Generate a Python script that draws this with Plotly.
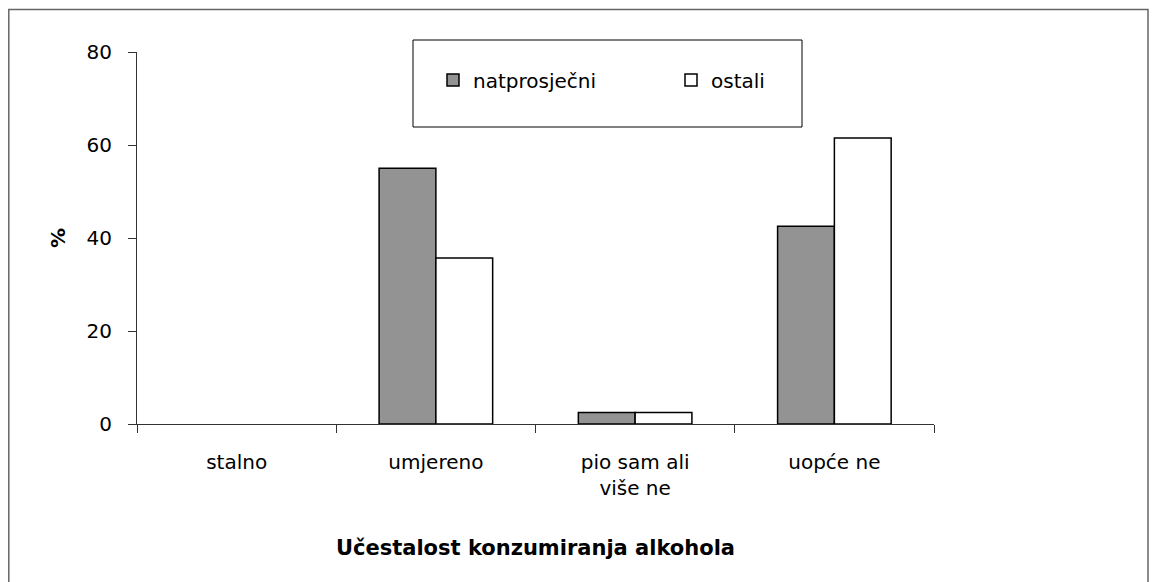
import plotly.graph_objects as go

categories = ["stalno", "umjereno", "pio sam ali<br>više ne", "uopće ne"]
natprosjecni = [None, 55, 2.5, 42.5]
ostali = [None, 35.7, 2.5, 61.5]
series_names = ["natprosječni", "ostali"]
y_ticks = [0, 20, 40, 60, 80]

FONT = "DejaVu Sans, Liberation Sans, Arial, sans-serif"

# plot area in figure pixels
L, R, T, B = 129, 926, 44, 416
W, H = 1158, 582
PW, PH = R - L, B - T

def px(x):
    return (x - L) / PW

def py(y):
    return (B - y) / PH

fig = go.Figure()
fig.add_trace(go.Bar(x=categories, y=natprosjecni, name=series_names[0],
                     marker=dict(color="#939393", line=dict(color="black", width=1.5))))
fig.add_trace(go.Bar(x=categories, y=ostali, name=series_names[1],
                     marker=dict(color="white", line=dict(color="black", width=1.5))))

fig.update_layout(
    width=W, height=H,
    margin=dict(l=L, r=W - R, t=T, b=H - B),
    paper_bgcolor="white", plot_bgcolor="white",
    barmode="group", bargap=0.43, bargroupgap=0,
    font=dict(family=FONT, size=20, color="black"),
    showlegend=True,
    legend=dict(orientation="h", x=px(425), y=py(72), xanchor="left", yanchor="middle",
                bgcolor="rgba(0,0,0,0)", borderwidth=0, entrywidth=193,
                font=dict(size=20, family=FONT)),
    shapes=[
        dict(type="rect", xref="paper", yref="paper",
             x0=px(405), x1=px(794), y0=py(119), y1=py(32),
             line=dict(color="black", width=1), fillcolor="white", layer="below"),
        dict(type="rect", xref="paper", yref="paper",
             x0=px(0.8), x1=px(1140), y0=py(600), y1=py(1.5),
             line=dict(color="#666666", width=1.5), fillcolor="rgba(0,0,0,0)", layer="below"),
    ],
)

fig.update_xaxes(
    showline=True, linecolor="#333333", linewidth=1,
    ticks="outside", tickson="boundaries", ticklen=8, tickcolor="#333333",
    ticklabelstandoff=20,
    showgrid=False,
    title=dict(text="<b>Učestalost konzumiranja alkohola</b>", font=dict(size=21), standoff=41),
    tickfont=dict(size=20),
)
fig.update_yaxes(
    range=[0, 80], tickvals=y_ticks,
    showline=True, linecolor="#333333", linewidth=1,
    ticks="outside", ticklen=8, tickcolor="#333333",
    ticklabelstandoff=12,
    showgrid=False, zeroline=False,
    title=dict(text="<b>%</b>", font=dict(size=20), standoff=15),
    tickfont=dict(size=20),
)

fig.write_html("out.html")
